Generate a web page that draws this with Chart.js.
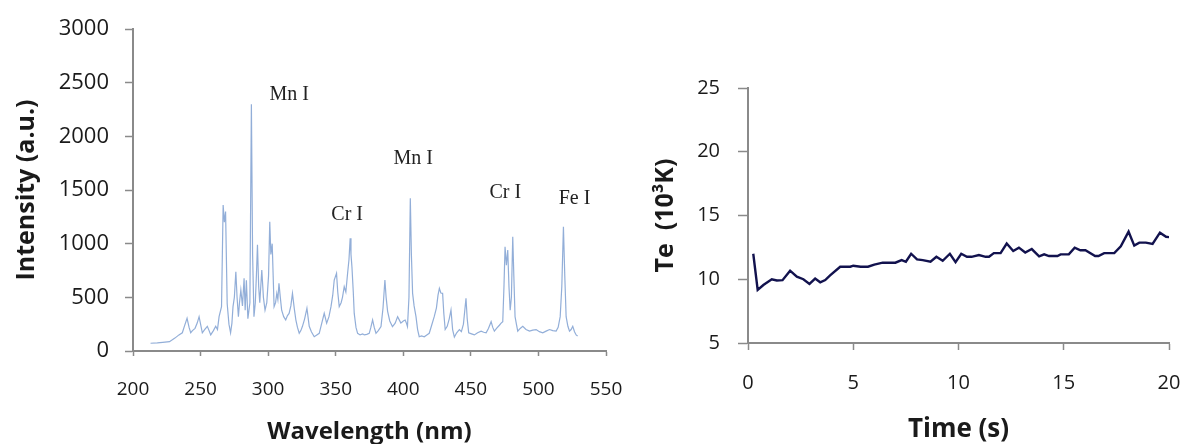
<!DOCTYPE html>
<html>
<head>
<meta charset="utf-8">
<script src="https://cdn.jsdelivr.net/npm/chart.js@4.4.1/dist/chart.umd.min.js"></script>
<style>
html,body{margin:0;padding:0;background:#fff;}
#lw{position:absolute;left:0;top:0;width:640px;height:444px;}
#rw{position:absolute;left:620px;top:0;width:567px;height:444px;}
</style>
</head>
<body>
<div id="lw"><canvas id="left"></canvas></div>
<div id="rw"><canvas id="right"></canvas></div>
<script>
// ---- Left panel: emission spectrum ----
const wavelength = [213,218,222,227,231,234,236.5,238,240,241.5,242.7,244,245.9,247.5,248.9,250,251.3,253,255,256.3,257.5,259.5,261.2,262.5,263.7,265.5,266.7,267.6,268.5,269.7,271,272.2,273.2,274,275,276.1,277,278,278.8,279.8,281,282.2,283,283.9,285,286.5,287.6,288.5,289.5,290.5,291.3,292.1,293,293.8,295.3,296.5,297.7,299,300.3,301.2,302,303,304.4,305.5,306.4,307.2,308,309,310,311.5,313,314.3,315.5,316.8,318,319.3,320.5,321.7,323,324.2,325.4,327,328.7,330.4,332,334.1,336,337.8,339.5,341.5,343.3,345,346.5,347.8,348.9,350.6,351.5,352.6,354,355,356.3,357.5,358.8,359.8,360.7,361.3,362,363,363.7,365,366.2,368,370,371.1,373,374.8,376,377.3,378.5,379.8,381.5,383.5,385,386.4,387.3,388.4,390,392,394,395.8,397,398.2,400,401.4,402.3,403.1,404.2,405.2,406,406.9,408,409.4,410.6,411.8,413.5,415.5,417.4,419.2,421,422.9,424.5,425.7,426.7,427.8,429.1,430,431,432.5,434,435.3,436.5,437.8,439.5,441.5,443,444.5,446.4,447.3,448.4,450.5,452.6,455,457.6,459.5,461.3,463,465,466.2,467.4,469,471.1,472.4,473.6,474.5,475.3,476.3,477.3,478.2,479.1,480,481,481.8,482.7,483.7,484.7,486.5,488.4,490.8,493.4,495.8,498.3,500.7,503.2,505.7,508.2,510.6,513.1,514.6,516.1,517.3,518.5,519.5,520.5,521.8,523,524.2,525.4,526.7,527.9,529];
const intensity = [72,75,80,87,120,150,170,230,305,220,170,190,211,260,320,250,170,200,230,190,150,190,230,200,320,413,1360,1200,1300,440,250,170,260,413,500,739,500,320,450,568,420,677,380,660,300,450,2300,900,320,450,700,990,600,450,755,500,380,450,700,1205,900,1000,413,450,537,480,630,500,380,320,290,330,350,420,537,400,290,220,165,190,230,300,398,230,180,133,150,165,250,351,260,320,413,520,661,724,550,413,450,500,599,550,724,850,1050,900,785,550,350,220,165,150,160,150,155,165,220,289,220,165,190,227,400,661,500,370,280,227,260,320,290,260,280,289,260,227,500,1422,900,537,420,320,200,133,140,133,150,165,240,320,400,520,584,540,537,350,200,230,300,382,200,130,170,200,180,250,491,300,170,160,150,170,185,175,170,210,273,220,185,210,240,260,273,600,972,800,940,600,380,500,1065,700,320,250,185,210,230,200,185,195,200,180,170,185,200,190,185,220,320,600,1158,700,320,230,185,200,230,180,150,140];
const wlTicks = [200,250,300,350,400,450,500,550];
const intTicks = [0,500,1000,1500,2000,2500,3000];
const peakNames = ["Mn I","Cr I","Mn I","Cr I","Fe I"];
const peakNameWl = [315.6,358.5,407.4,475.5,526.7];
const peakNameInt = [2385,1267,1789,1472,1416];

// ---- Right panel: electron temperature vs time ----
const timeS = [0.25,0.46,0.73,1.13,1.37,1.64,2.0,2.32,2.63,2.92,3.19,3.43,3.67,3.9,4.38,4.86,5.0,5.35,5.7,6.0,6.4,7.0,7.3,7.5,7.75,8.03,8.3,8.67,8.95,9.25,9.59,9.86,10.13,10.4,10.62,10.97,11.29,11.45,11.68,12.0,12.29,12.6,12.87,13.17,13.48,13.83,14.07,14.3,14.7,14.85,15.24,15.52,15.79,16.03,16.49,16.65,16.92,17.4,17.71,18.08,18.35,18.59,18.9,19.22,19.57,19.86,20.03];
const teK = [12.0,9.16,9.55,10.0,9.9,9.93,10.67,10.2,10.0,9.63,10.05,9.76,9.94,10.3,10.98,10.98,11.06,10.98,10.98,11.15,11.3,11.3,11.5,11.37,12.0,11.56,11.5,11.37,11.76,11.45,12.0,11.34,12.0,11.76,11.76,11.9,11.76,11.76,12.05,12.05,12.8,12.22,12.48,12.1,12.37,11.79,11.95,11.82,11.82,11.95,11.95,12.48,12.27,12.27,11.82,11.82,12.05,12.05,12.58,13.73,12.64,12.87,12.87,12.77,13.65,13.33,13.3];
const timeTicks = [0,5,10,15,20];
const teTicks = [5,10,15,20,25];

const AX = '#8a8a8a';
const TXT = '#1a1a1a';
const SANS = "'Open Sans', 'Liberation Sans', sans-serif";
const plain = v => String(v);

function fixed(w, h) {
  return function (scale) {
    if (w !== null) scale.width = w;
    if (h !== null) scale.height = h;
    scale.paddingLeft = 0; scale.paddingRight = 0;
    scale.paddingTop = 0; scale.paddingBottom = 0;
  };
}

const peakLabelPlugin = {
  id: 'peakLabels',
  afterDatasetsDraw(chart) {
    const ctx = chart.ctx, xs = chart.scales.x, ys = chart.scales.y;
    ctx.save();
    ctx.font = "20px 'Liberation Serif', 'Times New Roman', serif";
    ctx.fillStyle = '#222';
    ctx.textAlign = 'center';
    ctx.textBaseline = 'middle';
    peakNames.forEach((t, i) => {
      ctx.fillText(t, xs.getPixelForValue(peakNameWl[i]), ys.getPixelForValue(peakNameInt[i]));
    });
    ctx.restore();
  }
};

function draw() {
  new Chart(document.getElementById('left'), {
    type: 'line',
    data: {
      datasets: [{
        data: wavelength.map((w, i) => ({x: w, y: intensity[i]})),
        borderColor: 'rgba(140,170,214,0.95)',
        borderWidth: 1.2,
        pointRadius: 0,
        tension: 0,
        fill: false
      }]
    },
    options: {
      responsive: true,
      maintainAspectRatio: false,
      animation: false,
      layout: {padding: {top: 29, right: 34, left: 0, bottom: 0}},
      plugins: {legend: {display: false}, tooltip: {enabled: false}},
      scales: {
        x: {
          type: 'linear', min: 200, max: 550,
          afterBuildTicks: s => { s.ticks = wlTicks.map(v => ({value: v})); },
          afterFit: fixed(null, 93),
          ticks: {font: {family: SANS, size: 19}, color: TXT, padding: 22, maxRotation: 0, autoSkip: false, callback: plain},
          grid: {display: true, drawOnChartArea: false, drawTicks: true, tickLength: 5, tickWidth: 1.5, tickColor: AX},
          border: {display: true, color: AX, width: 2},
          title: {display: true, text: 'Wavelength (nm)', color: TXT,
                  font: {family: SANS, size: 24, weight: 'bold', lineHeight: 1}, padding: {top: 0, bottom: 0}}
        },
        y: {
          type: 'linear', min: 0, max: 3000,
          afterBuildTicks: s => { s.ticks = intTicks.map(v => ({value: v})); },
          afterFit: fixed(133, null),
          ticks: {font: {family: SANS, size: 22}, color: TXT, padding: 16, callback: plain},
          grid: {display: true, drawOnChartArea: false, drawTicks: true, tickLength: 8, tickWidth: 1.5, tickColor: AX},
          border: {display: true, color: AX, width: 2},
          title: {display: true, text: 'Intensity (a.u.)', color: TXT,
                  font: {family: SANS, size: 25, weight: 'bold', lineHeight: 1}, padding: {top: 14, bottom: 0}}
        }
      }
    },
    plugins: [peakLabelPlugin]
  });

  new Chart(document.getElementById('right'), {
    type: 'line',
    data: {
      datasets: [{
        data: timeS.map((t, i) => ({x: t, y: teK[i]})),
        borderColor: '#12124e',
        borderWidth: 2.4,
        pointRadius: 0,
        tension: 0,
        fill: false
      }]
    },
    options: {
      responsive: true,
      maintainAspectRatio: false,
      animation: false,
      layout: {padding: {top: 88, right: 18, left: 0, bottom: 0}},
      plugins: {legend: {display: false}, tooltip: {enabled: false}},
      scales: {
        x: {
          type: 'linear', min: 0, max: 20,
          afterBuildTicks: s => { s.ticks = timeTicks.map(v => ({value: v})); },
          afterFit: fixed(null, 101),
          ticks: {font: {family: SANS, size: 20}, color: TXT, padding: 21, maxRotation: 0, autoSkip: false, callback: plain},
          grid: {display: true, drawOnChartArea: false, drawTicks: true, tickLength: 7, tickWidth: 1.5, tickColor: AX},
          border: {display: true, color: AX, width: 2},
          title: {display: true, text: 'Time (s)', color: TXT,
                  font: {family: SANS, size: 26, weight: 'bold', lineHeight: 1}, padding: {top: 0, bottom: 1}}
        },
        y: {
          type: 'linear', min: 5, max: 25,
          afterBuildTicks: s => { s.ticks = teTicks.map(v => ({value: v})); },
          afterFit: fixed(128, null),
          ticks: {font: {family: SANS, size: 20}, color: TXT, padding: 18, callback: plain},
          grid: {display: true, drawOnChartArea: false, drawTicks: true, tickLength: 10, tickWidth: 1.5, tickColor: AX},
          border: {display: true, color: AX, width: 2},
          title: {display: true, text: 'Te  (10³K)', color: TXT,
                  font: {family: SANS, size: 25, weight: 'bold', lineHeight: 1}, padding: {top: 33, bottom: 0}}
        }
      }
    }
  });
}

Promise.all([
  document.fonts.load("20px 'Open Sans'"),
  document.fonts.load("bold 24px 'Open Sans'"),
  document.fonts.load("20px 'Liberation Serif'")
]).then(draw, draw);
</script>
</body>
</html>
